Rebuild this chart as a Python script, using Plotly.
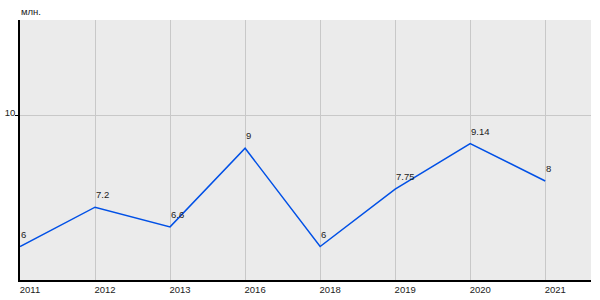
import plotly.graph_objects as go

years = ["2011", "2012", "2013", "2016", "2018", "2019", "2020", "2021"]
values = [6, 7.2, 6.6, 9, 6, 7.75, 9.14, 8]
labels = ["6", "7.2", "6.6", "9", "6", "7.75", "9.14", "8"]
y_ticks = [10]
unit_label = "млн."

FONT = "Liberation Sans, Arial, sans-serif"

fig = go.Figure()
fig.add_trace(go.Scatter(
    x=list(range(len(years))), y=values, mode="lines",
    line=dict(color="#0050e6", width=1.5),
    hoverinfo="skip", showlegend=False,
))

for i, (v, t) in enumerate(zip(values, labels)):
    fig.add_annotation(
        x=i, y=v, text=t, showarrow=False,
        xanchor="left", yanchor="bottom", xshift=-1, yshift=5,
        font=dict(family=FONT, size=9.5, color="#222222"),
    )

fig.add_annotation(
    xref="paper", yref="paper", x=0, y=1, text=unit_label, showarrow=False,
    xanchor="left", yanchor="bottom", yshift=1, xshift=-1,
    font=dict(family=FONT, size=9.5, color="#222222"),
)

fig.update_layout(
    width=600, height=300,
    margin=dict(l=20, r=9, t=20, b=20),
    paper_bgcolor="white", plot_bgcolor="#ebebeb",
    font=dict(family=FONT, size=9.5, color="#222222"),
    xaxis=dict(
        tickmode="array", tickvals=list(range(len(years))), ticktext=years,
        range=[0, 7.61], showgrid=True, gridcolor="#c8c8c8", gridwidth=1,
        showline=True, linecolor="black", linewidth=1.5,
        ticks="", ticklabelshift=10, ticklabelstandoff=0,
        zeroline=False, fixedrange=True, automargin=False,
    ),
    yaxis=dict(
        tickmode="array", tickvals=y_ticks, range=[4.98, 12.91],
        showgrid=True, gridcolor="#c8c8c8", gridwidth=1,
        showline=True, linecolor="black", linewidth=1.5,
        ticks="outside", ticklen=3, tickcolor="black",
        ticklabelshift=-3, ticklabelstandoff=-2,
        zeroline=False, fixedrange=True, automargin=False,
    ),
)

fig.write_html("out.html")
